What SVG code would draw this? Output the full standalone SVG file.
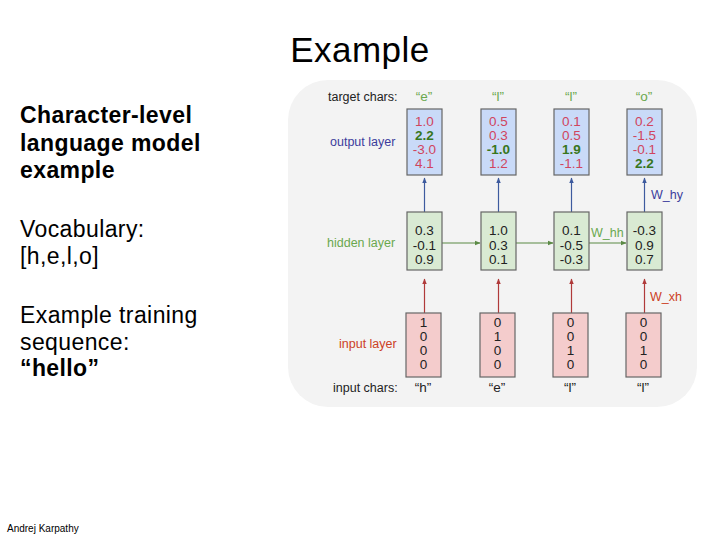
<svg xmlns="http://www.w3.org/2000/svg" width="720" height="540" viewBox="0 0 720 540">
<defs>
<style>
.t{font-family:"Liberation Sans",Arial,sans-serif}
.lt{font-family:"Liberation Sans",Arial,sans-serif;font-size:23px;fill:#000;letter-spacing:0.4px}
.d{font-family:"Liberation Sans",Arial,sans-serif;font-size:13.5px;text-anchor:middle}
.lab{font-family:"Liberation Sans",Arial,sans-serif;font-size:12.5px}
.ob{fill:#c9daf8;stroke:#666;stroke-width:1.2}
.hb{fill:#d9ead3;stroke:#666;stroke-width:1.2}
.ib{fill:#f4cccc;stroke:#666;stroke-width:1.2}
.r{fill:#d0455e}
.g{fill:#38761d;font-weight:bold}
.k{fill:#222}
</style>
<marker id="ab" viewBox="0 0 10 10" refX="9" refY="5" markerWidth="5" markerHeight="5" orient="auto"><path d="M0,1 L10,5 L0,9 z" fill="#3d5a9e"/></marker>
<marker id="ag" viewBox="0 0 10 10" refX="9" refY="5" markerWidth="5" markerHeight="5" orient="auto"><path d="M0,1 L10,5 L0,9 z" fill="#5b8a45"/></marker>
<marker id="ar" viewBox="0 0 10 10" refX="9" refY="5" markerWidth="5" markerHeight="5" orient="auto"><path d="M0,1 L10,5 L0,9 z" fill="#b03a3a"/></marker>
</defs>
<rect width="720" height="540" fill="#fff"/>
<text class="t" x="360" y="62" font-size="35" text-anchor="middle" letter-spacing="0.5">Example</text>
<g id="left-text">
<text class="lt" x="20" y="123" font-weight="bold">Character-level</text>
<text class="lt" x="20" y="151" font-weight="bold">language model</text>
<text class="lt" x="20" y="178" font-weight="bold">example</text>
<text class="lt" x="20" y="237">Vocabulary:</text>
<text class="lt" x="20" y="264">[h,e,l,o]</text>
<text class="lt" x="20" y="323">Example training</text>
<text class="lt" x="20" y="350">sequence:</text>
<text class="lt" x="20" y="376" font-weight="bold">“hello”</text>
</g>
<text class="t" x="7" y="532" font-size="10">Andrej Karpathy</text>
<rect id="panel" x="288" y="80" width="409" height="327" rx="40" fill="#f3f3f3"/>
<g id="labels">
<text class="lab k" x="328" y="101">target chars:</text>
<text class="lab" x="330" y="146" fill="#3c3c9c">output layer</text>
<text class="lab" x="327" y="247" fill="#6aa84f">hidden layer</text>
<text class="lab" x="339" y="348" fill="#cc4125">input layer</text>
<text class="lab k" x="333" y="392">input chars:</text>
<text class="d" x="424" y="101" fill="#6aa84f">“e”</text>
<text class="d" x="498" y="101" fill="#6aa84f">“l”</text>
<text class="d" x="571" y="101" fill="#6aa84f">“l”</text>
<text class="d" x="644" y="101" fill="#6aa84f">“o”</text>
<text class="d k" x="423" y="392">“h”</text>
<text class="d k" x="497" y="392">“e”</text>
<text class="d k" x="570" y="392">“l”</text>
<text class="d k" x="643" y="392">“l”</text>
<text class="lab" x="651" y="199" fill="#3c3c9c">W_hy</text>
<text class="lab" x="591" y="237" fill="#6aa84f">W_hh</text>
<text class="lab" x="650" y="301" fill="#cc4125">W_xh</text>
</g>
<g id="connectors" fill="none" stroke-width="1.2">
<line x1="424.5" y1="212" x2="424.5" y2="178" stroke="#3d5a9e" marker-end="url(#ab)"/>
<line x1="498.5" y1="212" x2="498.5" y2="178" stroke="#3d5a9e" marker-end="url(#ab)"/>
<line x1="571.5" y1="212" x2="571.5" y2="178" stroke="#3d5a9e" marker-end="url(#ab)"/>
<line x1="644.5" y1="212" x2="644.5" y2="178" stroke="#3d5a9e" marker-end="url(#ab)"/>
<line x1="442" y1="243" x2="480" y2="243" stroke="#5b8a45" marker-end="url(#ag)"/>
<line x1="516" y1="243" x2="553" y2="243" stroke="#5b8a45" marker-end="url(#ag)"/>
<line x1="589" y1="243" x2="626" y2="243" stroke="#5b8a45" marker-end="url(#ag)"/>
<line x1="424.5" y1="313" x2="424.5" y2="279" stroke="#b03a3a" marker-end="url(#ar)"/>
<line x1="498.5" y1="313" x2="498.5" y2="279" stroke="#b03a3a" marker-end="url(#ar)"/>
<line x1="571.5" y1="313" x2="571.5" y2="279" stroke="#b03a3a" marker-end="url(#ar)"/>
<line x1="644.5" y1="313" x2="644.5" y2="279" stroke="#b03a3a" marker-end="url(#ar)"/>
</g>
<g id="out1"><rect class="ob" x="407" y="109" width="35" height="66"/>
<text class="d r" x="424.5" y="126">1.0</text><text class="d g" x="424.5" y="140">2.2</text><text class="d r" x="424.5" y="154">-3.0</text><text class="d r" x="424.5" y="168">4.1</text></g>
<g id="out2"><rect class="ob" x="481" y="109" width="35" height="66"/>
<text class="d r" x="498.5" y="126">0.5</text><text class="d r" x="498.5" y="140">0.3</text><text class="d g" x="498.5" y="154">-1.0</text><text class="d r" x="498.5" y="168">1.2</text></g>
<g id="out3"><rect class="ob" x="554" y="109" width="35" height="66"/>
<text class="d r" x="571.5" y="126">0.1</text><text class="d r" x="571.5" y="140">0.5</text><text class="d g" x="571.5" y="154">1.9</text><text class="d r" x="571.5" y="168">-1.1</text></g>
<g id="out4"><rect class="ob" x="627" y="109" width="35" height="66"/>
<text class="d r" x="644.5" y="126">0.2</text><text class="d r" x="644.5" y="140">-1.5</text><text class="d r" x="644.5" y="154">-0.1</text><text class="d g" x="644.5" y="168">2.2</text></g>
<g id="hid1"><rect class="hb" x="407" y="212" width="35" height="58"/>
<text class="d k" x="424.5" y="235">0.3</text><text class="d k" x="424.5" y="250">-0.1</text><text class="d k" x="424.5" y="264">0.9</text></g>
<g id="hid2"><rect class="hb" x="481" y="212" width="35" height="58"/>
<text class="d k" x="498.5" y="235">1.0</text><text class="d k" x="498.5" y="250">0.3</text><text class="d k" x="498.5" y="264">0.1</text></g>
<g id="hid3"><rect class="hb" x="554" y="212" width="35" height="58"/>
<text class="d k" x="571.5" y="235">0.1</text><text class="d k" x="571.5" y="250">-0.5</text><text class="d k" x="571.5" y="264">-0.3</text></g>
<g id="hid4"><rect class="hb" x="627" y="212" width="35" height="58"/>
<text class="d k" x="644.5" y="235">-0.3</text><text class="d k" x="644.5" y="250">0.9</text><text class="d k" x="644.5" y="264">0.7</text></g>
<g id="in1"><rect class="ib" x="406" y="313" width="35" height="64"/>
<text class="d k" x="423.5" y="327">1</text><text class="d k" x="423.5" y="341">0</text><text class="d k" x="423.5" y="355">0</text><text class="d k" x="423.5" y="369">0</text></g>
<g id="in2"><rect class="ib" x="480" y="313" width="35" height="64"/>
<text class="d k" x="497.5" y="327">0</text><text class="d k" x="497.5" y="341">1</text><text class="d k" x="497.5" y="355">0</text><text class="d k" x="497.5" y="369">0</text></g>
<g id="in3"><rect class="ib" x="553" y="313" width="35" height="64"/>
<text class="d k" x="570.5" y="327">0</text><text class="d k" x="570.5" y="341">0</text><text class="d k" x="570.5" y="355">1</text><text class="d k" x="570.5" y="369">0</text></g>
<g id="in4"><rect class="ib" x="626" y="313" width="35" height="64"/>
<text class="d k" x="643.5" y="327">0</text><text class="d k" x="643.5" y="341">0</text><text class="d k" x="643.5" y="355">1</text><text class="d k" x="643.5" y="369">0</text></g>
</svg>
